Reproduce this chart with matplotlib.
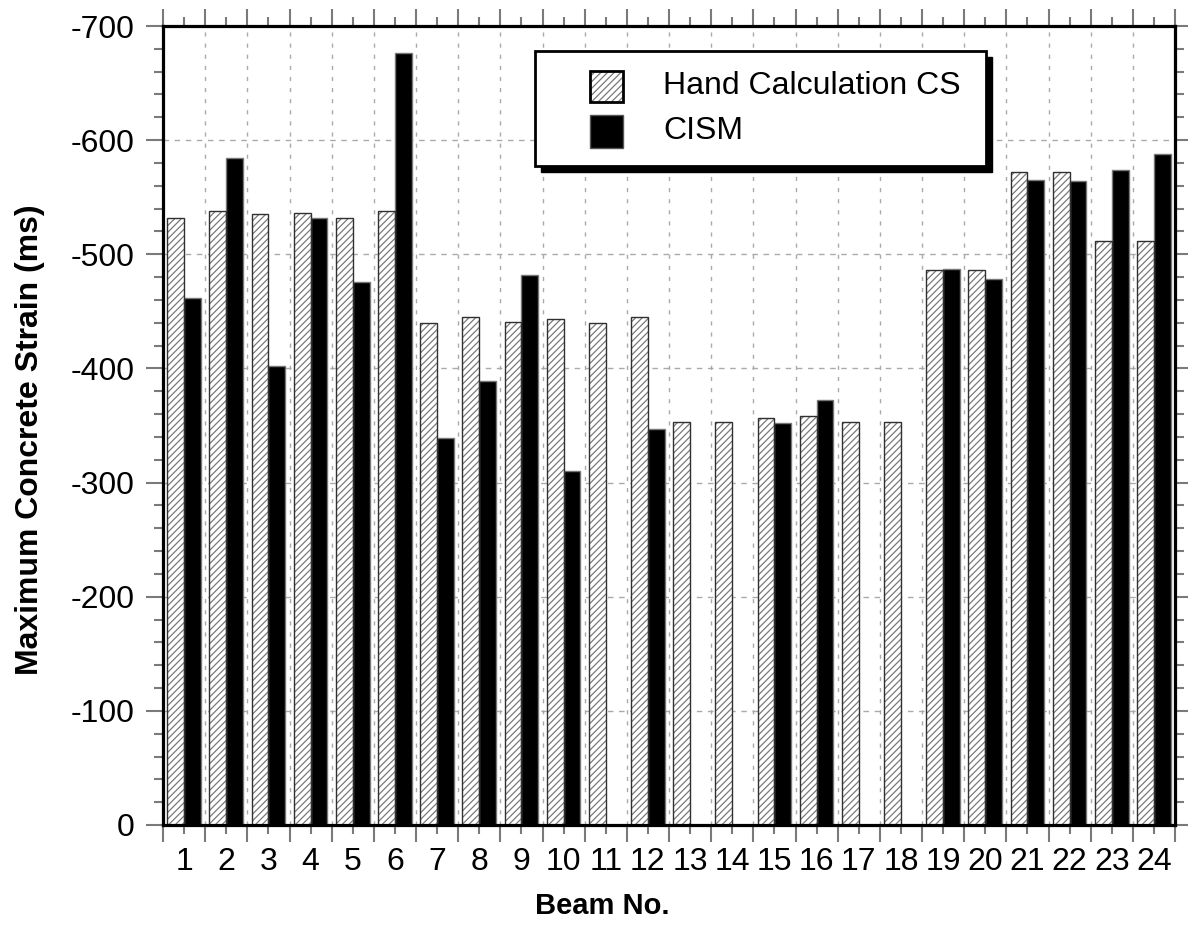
import matplotlib.pyplot as plt
from matplotlib.patches import Rectangle
from matplotlib.ticker import MultipleLocator, FixedLocator, NullFormatter
import numpy as np

plt.rcParams['font.family'] = ['Liberation Sans', 'DejaVu Sans']
plt.rcParams['axes.unicode_minus'] = False
plt.rcParams['hatch.linewidth'] = 0.9

# 梁编号与最大混凝土应变
beams = list(range(1, 25))
hand_cs = [-532, -538, -535, -536, -532, -538, -440, -445, -441, -443, -440, -445,
           -353, -353, -357, -358, -353, -353, -486, -486, -572, -572, -512, -512]
cism = [-462, -584, -402, -532, -476, -676, -339, -389, -482, -310, 0, -347,
        0, 0, -352, -372, 0, 0, -487, -478, -565, -564, -574, -588]
series_names = ['Hand Calculation CS', 'CISM']

W, H = 1188, 935
fig = plt.figure(figsize=(W / 100, H / 100), dpi=100)
ax = fig.add_axes([163 / W, 1 - 825 / H, (1175 - 163) / W, (825 - 26) / H])

x = np.array(beams)
bw = 0.4
hatch_col = '#7a7a7a'

# 手算结果：斜线填充柱
ax.bar(x - bw / 2, hand_cs, bw, color='white', edgecolor=hatch_col,
       hatch='/////', linewidth=0, zorder=3)
ax.bar(x - bw / 2, hand_cs, bw, fill=False, edgecolor='#303030',
       linewidth=1.0, zorder=4)
# CISM 结果：黑色实心柱
ax.bar(x + bw / 2, cism, bw, color='black', edgecolor='#777777',
       linewidth=1.0, zorder=3)

# 坐标轴范围（纵轴向上为负）
ax.set_xlim(0.5, 24.5)
ax.set_ylim(0, -700)

ax.yaxis.set_major_locator(MultipleLocator(100))
ax.yaxis.set_minor_locator(MultipleLocator(20))
ax.xaxis.set_major_locator(FixedLocator(np.arange(0.5, 25, 1)))
ax.xaxis.set_major_formatter(NullFormatter())
ax.xaxis.set_minor_locator(FixedLocator(beams))
ax.set_xticklabels([str(b) for b in beams], minor=True)

tick_col = '#7a7a7a'
ax.tick_params(axis='both', which='both', direction='out', colors=tick_col,
               labelcolor='black', labelsize=23, top=True, right=True, width=1.5)
ax.tick_params(axis='both', which='major', length=12.5)
ax.tick_params(axis='both', which='minor', length=6.5)
ax.tick_params(axis='x', which='minor', pad=9)
ax.tick_params(axis='y', which='major', pad=8)
ax.tick_params(axis='y', which='both', labelright=False)
ax.tick_params(axis='x', which='both', labeltop=False)

for s in ax.spines.values():
    s.set_linewidth(2.3)
    s.set_color('black')
    s.set_zorder(5)

# 网格线
ax.grid(True, axis='x', which='major', color='#aaaaaa', linestyle=(0, (3, 5)),
        linewidth=1.0, zorder=1)
ax.grid(True, axis='y', which='major', color='#aaaaaa', linestyle=(0, (4, 4)),
        linewidth=1.0, zorder=1)
ax.set_axisbelow(True)

fig.text(602 / W, 1 - 906 / H, 'Beam No.', ha='center', va='center',
         fontsize=21, fontweight='bold')
fig.text(30 / W, 1 - 440 / H, 'Maximum Concrete Strain (ms)', ha='center',
         va='center', rotation=90, fontsize=23, fontweight='bold')

# 图例（带黑色阴影的方框）
def fx(px):
    return px / W

def fy(py):
    return 1 - py / H

tf = fig.transFigure
box_l, box_t, box_r, box_b = 535, 51, 986, 166
sh = 6
fig.patches.append(Rectangle((fx(box_l + sh), fy(box_b + sh)), fx(box_r - box_l),
                             (box_b - box_t) / H, transform=tf, facecolor='black',
                             edgecolor='black', zorder=10))
fig.patches.append(Rectangle((fx(box_l), fy(box_b)), fx(box_r - box_l),
                             (box_b - box_t) / H, transform=tf, facecolor='white',
                             edgecolor='black', linewidth=2, zorder=11))
fig.patches.append(Rectangle((fx(590), fy(102)), fx(33), 31 / H, transform=tf,
                             facecolor='white', edgecolor=hatch_col, hatch='/////',
                             linewidth=0, zorder=12))
fig.patches.append(Rectangle((fx(590), fy(102)), fx(33), 31 / H, transform=tf,
                             fill=False, edgecolor='black', linewidth=2, zorder=13))
fig.patches.append(Rectangle((fx(590), fy(148)), fx(33), 33 / H, transform=tf,
                             facecolor='black', edgecolor='#555555', linewidth=1,
                             zorder=12))
fig.text(fx(663), fy(86), series_names[0], fontsize=23, va='center', ha='left',
         zorder=14)
fig.text(fx(663), fy(131), series_names[1], fontsize=23, va='center', ha='left',
         zorder=14)

fig.savefig('out.png', dpi=100)
